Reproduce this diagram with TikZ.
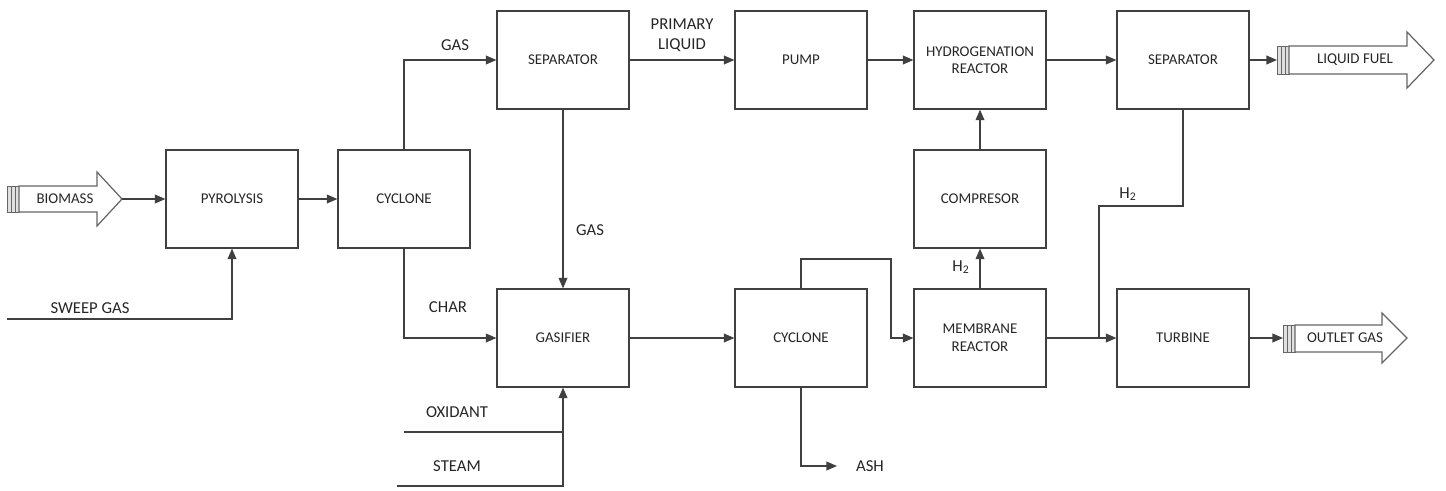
\documentclass[tikz,border=0pt]{standalone}
\usepackage{fontspec}
\setmainfont{Carlito}
\usetikzlibrary{arrows.meta}

\begin{document}
\begin{tikzpicture}[x=0.02cm, y=-0.02cm, line width=0.7pt,
  block/.style={rectangle, draw=black!75, minimum width=2.64cm, minimum height=1.96cm,
    font=\fontsize{8.5}{10}\selectfont, align=center, text=black!85},
  lbl/.style={font=\fontsize{9.5}{11.5}\selectfont, align=center, text=black!85},
  arrtext/.style={font=\fontsize{8.5}{10}\selectfont, text=black!85},
  flow/.style={draw=black!75, -{Triangle[length=6pt,width=5pt]}},
  plain/.style={draw=black!75},
  pipe/.style={draw=black!60, fill=black!12, line width=0.5pt},
  bigarrow/.style={draw=black!60, fill=white}]
  \useasboundingbox (0,0) rectangle (1446,490);

  % process blocks
  \node[block] (pyro) at (232,199) {PYROLYSIS};
  \node[block] (cyc1) at (404,199) {CYCLONE};
  \node[block] (sep1) at (563,60) {SEPARATOR};
  \node[block] (pump) at (801,60) {PUMP};
  \node[block] (hydro) at (980,60) {HYDROGENATION\\REACTOR};
  \node[block] (sep2) at (1183,60) {SEPARATOR};
  \node[block] (comp) at (980,199) {COMPRESOR};
  \node[block] (gasif) at (563,338) {GASIFIER};
  \node[block] (cyc2) at (801,338) {CYCLONE};
  \node[block] (memb) at (980,338) {MEMBRANE\\REACTOR};
  \node[block] (turb) at (1183,338) {TURBINE};

  % biomass inlet
  \foreach \i in {0,1,2} \draw[pipe] (7+4*\i,186) rectangle +(4,26);
  \draw[bigarrow] (19,186) -- (97,186) -- (97,172) -- (122,199) -- (97,226) -- (97,212) -- (19,212) -- cycle;
  \coordinate (bioTip) at (122,199);
  \node[arrtext] (bio) at (65,199) {BIOMASS};

  % liquid fuel outlet
  \foreach \i in {0,1,2} \draw[pipe] (1277+4*\i,46) rectangle +(4,28);
  \draw[bigarrow] (1289,46) -- (1407,46) -- (1407,32) -- (1434,60) -- (1407,88) -- (1407,74) -- (1289,74) -- cycle;
  \coordinate (fuelIn) at (1277,60);
  \node[arrtext] (fuel) at (1355,60) {LIQUID FUEL};

  % outlet gas
  \foreach \i in {0,1,2} \draw[pipe] (1283+4*\i,325) rectangle +(4,27);
  \draw[bigarrow] (1295,325) -- (1382,325) -- (1382,313) -- (1407,338) -- (1382,363) -- (1382,352) -- (1295,352) -- cycle;
  \coordinate (gasIn) at (1283,338);
  \node[arrtext] (outgas) at (1345,338) {OUTLET GAS};

  % free ends
  \coordinate (sweep) at (7,319);
  \coordinate (oxid) at (404,432);
  \coordinate (steam) at (397,486);
  \coordinate (cycBend) at (891,259);
  \coordinate (ashEnd) at (837,466);
  \coordinate (h2Bend) at (1099,206);

  % connections
  \draw[flow] (bioTip) -- (pyro);
  \draw[flow] (sweep) -| (pyro);
  \draw[flow] (pyro) -- (cyc1);
  \draw[flow] (cyc1.north) |- (sep1);
  \draw[flow] (cyc1.south) |- (gasif);
  \draw[flow] (sep1) -- (gasif);
  \draw[flow] (sep1) -- (pump);
  \draw[flow] (pump) -- (hydro);
  \draw[flow] (hydro) -- (sep2);
  \draw[flow] (sep2) -- (fuelIn);
  \draw[flow] (comp) -- (hydro);
  \draw[flow] (memb) -- (comp);
  \draw[flow] (gasif) -- (cyc2);
  \draw[flow] (cyc2.north) |- (cycBend) |- (memb);
  \draw[flow] (cyc2.south) |- (ashEnd);
  \draw[flow] (memb) -- (turb);
  \draw[plain] (sep2.south) |- (h2Bend) -- (h2Bend |- turb.west);
  \draw[flow] (turb) -- (gasIn);
  \draw[plain] (oxid) -- (oxid -| gasif);
  \draw[flow] (steam) -| (gasif.south);

  % stream labels
  \node[lbl] (sweepLbl) at (90,308) {SWEEP GAS};
  \node[lbl] (gasLbl) at (455,45) {GAS};
  \node[lbl] (charLbl) at (448,307) {CHAR};
  \node[lbl] (gas2Lbl) at (590,230) {GAS};
  \node[lbl] (liqLbl) at (682,35) {PRIMARY\\LIQUID};
  \node[lbl] (h2Lbl) at (961,267) {H\textsubscript{2}};
  \node[lbl] (h2bLbl) at (1128,194) {H\textsubscript{2}};
  \node[lbl] (ashLbl) at (870,466) {ASH};
  \node[lbl] (oxLbl) at (457,412) {OXIDANT};
  \node[lbl] (steamLbl) at (457,466) {STEAM};
\end{tikzpicture}
\end{document}
